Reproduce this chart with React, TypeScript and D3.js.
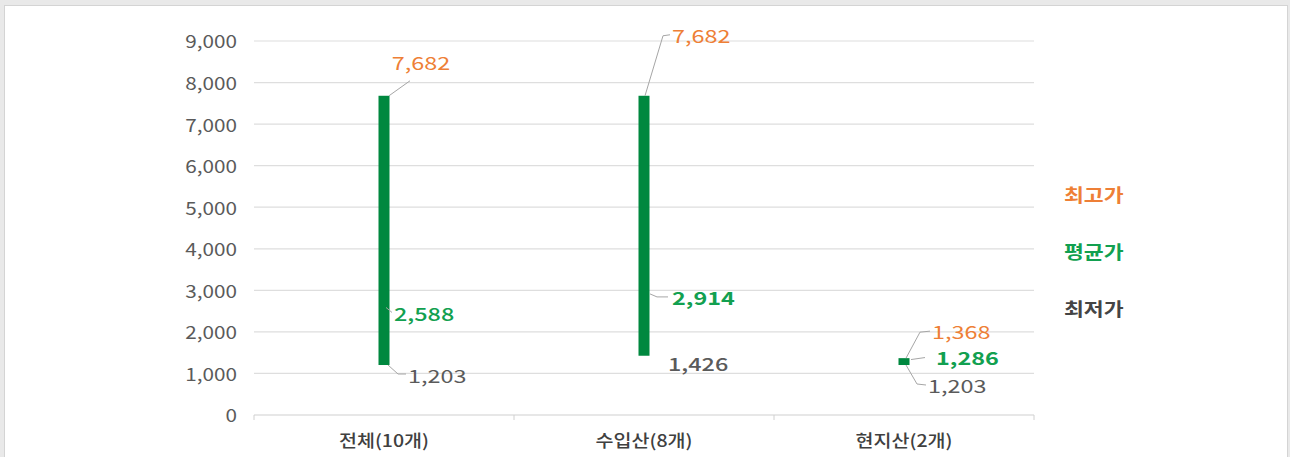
import React from "react";
import * as d3 from "d3";

const categories = ["전체(10개)", "수입산(8개)", "현지산(2개)"];
const maxPrice = [7682, 7682, 1368];
const avgPrice = [2588, 2914, 1286];
const minPrice = [1203, 1426, 1203];
const yTicks = [0, 1000, 2000, 3000, 4000, 5000, 6000, 7000, 8000, 9000];
const legendLabels = ["최고가", "평균가", "최저가"];

const W = 1290;
const H = 457;
const FONT = "'Noto Sans CJK KR', 'Noto Sans', sans-serif";
const ORANGE = "#EE7F36";
const GREEN_T = "#12A050";
const GREEN_BAR = "#00883F";
const GRAY_T = "#5a5a5a";
const LEADER = "#a6a6a6";

type Lab = { dx: number; dy: number; anchor: string; leader: number[][] | null; weight: number };
const maxLayout: Lab[] = [
  { dx: 37, dy: -34, anchor: "middle", leader: [[5, 0], [26, -15]], weight: 400 },
  { dx: 28, dy: -61, anchor: "start", leader: [[1, 0], [19, -60], [26, -61]], weight: 400 },
  { dx: 28, dy: -27, anchor: "start", leader: [[2, 0], [16, -26], [26, -27]], weight: 400 },
];
const avgLayout: Lab[] = [
  { dx: 10, dy: 6, anchor: "start", leader: [[2, 0], [8, 5]], weight: 500 },
  { dx: 28, dy: 3, anchor: "start", leader: [[6, 0], [13, 3], [24, 3]], weight: 600 },
  { dx: 32, dy: -4, anchor: "start", leader: [[7, -2], [21, -4]], weight: 600 },
];
const minLayout: Lab[] = [
  { dx: 24, dy: 10, anchor: "start", leader: [[4, 0], [14, 9], [22, 9]], weight: 400 },
  { dx: 24, dy: 7, anchor: "start", leader: null, weight: 500 },
  { dx: 24, dy: 20, anchor: "start", leader: [[2, 0], [13, 19], [22, 20]], weight: 400 },
];

function SText(props: {
  x: number; y: number; sx: number; anchor?: string; fill: string; size: number; weight?: number; children: any;
}) {
  const { x, y, sx, anchor = "start", fill, size, weight = 400, children } = props;
  return (
    <text
      transform={`translate(${x},${y}) scale(${sx},1)`}
      textAnchor={anchor as any}
      dominantBaseline="central"
      fill={fill}
      fontSize={size}
      fontWeight={weight}
      fontFamily={FONT}
    >
      {children}
    </text>
  );
}

export default function App() {
  const x = d3.scaleBand<string>().domain(categories).range([254, 1034]);
  const y = d3.scaleLinear().domain([0, 9000]).range([415, 41]);
  const fmt = d3.format(",");
  const barW = 11;
  const line = d3.line();

  const renderLabel = (v: number, cx: number, L: Lab, color: string, key: string) => {
    const py = y(v);
    return (
      <g key={key}>
        {L.leader && (
          <path
            d={line(L.leader.map(([a, b]) => [cx + a, py + b] as [number, number])) || ""}
            fill="none"
            stroke={LEADER}
            strokeWidth={1}
          />
        )}
        <SText x={cx + L.dx} y={py + L.dy} sx={1.3} anchor={L.anchor} fill={color} size={18} weight={L.weight}>
          {fmt(v)}
        </SText>
      </g>
    );
  };

  return (
    <svg width={W} height={H} style={{ position: "fixed", left: 0, top: 0 }}>
      <rect x={0} y={0} width={W} height={H} fill="#e9e9e9" />
      <rect x={4.5} y={5.5} width={1283} height={452} fill="#ffffff" stroke="#d4d4d4" />
      {yTicks.map((t) => (
        <line key={"g" + t} x1={254} x2={1034} y1={y(t)} y2={y(t)} stroke={t === 0 ? "#d0d0d0" : "#dedede"} strokeWidth={1.2} />
      ))}
      {[254, 514, 774, 1034].map((tx, i) => (
        <line key={"t" + i} x1={tx} x2={tx} y1={415} y2={420} stroke="#d0d0d0" />
      ))}
      {yTicks.map((t) => (
        <SText key={"yl" + t} x={237} y={y(t)} sx={1.15} anchor="end" fill={GRAY_T} size={18}>
          {fmt(t)}
        </SText>
      ))}
      {categories.map((c) => (
        <SText key={"c" + c} x={(x(c) || 0) + x.bandwidth() / 2} y={440} sx={1.15} anchor="middle" fill="#404040" size={17} weight={500}>
          {c}
        </SText>
      ))}
      {categories.map((c, i) => {
        const cx = (x(c) || 0) + x.bandwidth() / 2;
        return (
          <rect key={"b" + c} x={cx - barW / 2} y={y(maxPrice[i])} width={barW} height={Math.max(1, y(minPrice[i]) - y(maxPrice[i]))} fill={GREEN_BAR} />
        );
      })}
      {categories.map((c, i) => {
        const cx = (x(c) || 0) + x.bandwidth() / 2;
        return (
          <g key={"l" + c}>
            {renderLabel(maxPrice[i], cx, maxLayout[i], ORANGE, "mx")}
            {renderLabel(avgPrice[i], cx, avgLayout[i], GREEN_T, "av")}
            {renderLabel(minPrice[i], cx, minLayout[i], GRAY_T, "mn")}
          </g>
        );
      })}
      {legendLabels.map((l, i) => (
        <SText key={"lg" + l} x={1064} y={194 + i * 57} sx={1.2} fill={[ORANGE, GREEN_T, "#444444"][i]} size={18} weight={700}>
          {l}
        </SText>
      ))}
    </svg>
  );
}
